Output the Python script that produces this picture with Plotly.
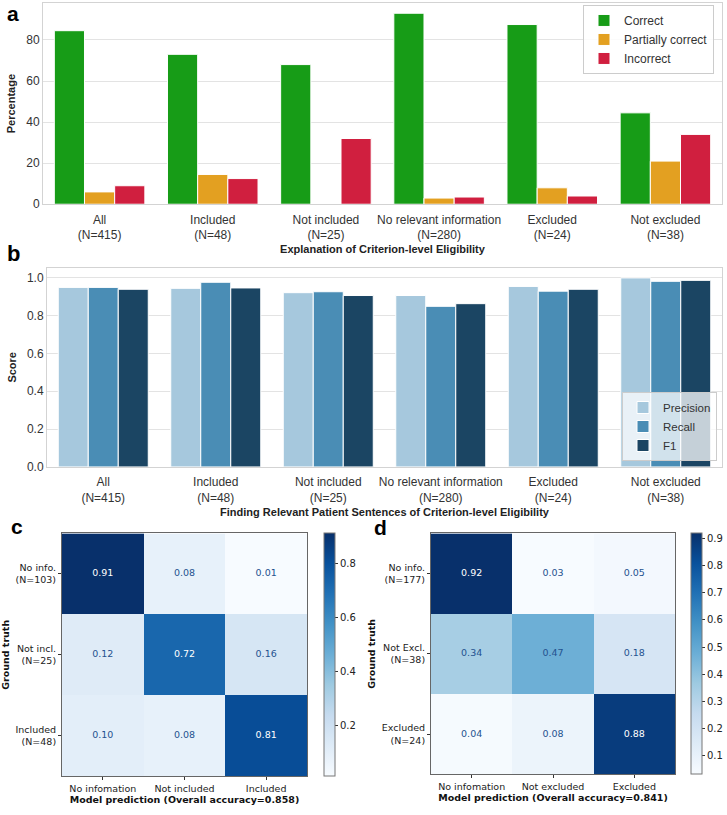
import plotly.graph_objects as go

W, H = 727, 815

# ---------------- data ----------------
cats = ["All<br>(N=415)", "Included<br>(N=48)", "Not included<br>(N=25)",
        "No relevant information<br>(N=280)", "Excluded<br>(N=24)", "Not excluded<br>(N=38)"]

correct = [84.5, 73.0, 68.0, 93.0, 87.5, 44.5]
partially = [6.0, 14.5, 0.0, 3.0, 8.0, 21.0]
incorrect = [9.0, 12.5, 32.0, 3.5, 4.0, 34.0]

precision = [0.948, 0.943, 0.920, 0.905, 0.953, 0.998]
recall = [0.948, 0.975, 0.925, 0.848, 0.928, 0.980]
f1 = [0.938, 0.945, 0.905, 0.862, 0.938, 0.985]

c_cols = ["No infomation", "Not included", "Included"]
c_rows = ["No info.<br>(N=103)", "Not incl.<br>(N=25)", "Included<br>(N=48)"]
c_vals = [[0.91, 0.08, 0.01],
          [0.12, 0.72, 0.16],
          [0.10, 0.08, 0.81]]

d_cols = ["No infomation", "Not excluded", "Excluded"]
d_rows = ["No info.<br>(N=177)", "Not Excl.<br>(N=38)", "Excluded<br>(N=24)"]
d_vals = [[0.92, 0.03, 0.05],
          [0.34, 0.47, 0.18],
          [0.04, 0.08, 0.88]]

# ---------------- helpers ----------------
def px_x(a, b):
    return [a / W, b / W]

def px_y(top, bottom):
    return [1 - bottom / H, 1 - top / H]

blues = [[0.0, "#f7fbff"], [0.125, "#deebf7"], [0.25, "#c6dbef"], [0.375, "#9ecae1"],
         [0.5, "#6baed6"], [0.625, "#4292c6"], [0.75, "#2171b5"], [0.875, "#08519c"],
         [1.0, "#08306b"]]

SANS = "Liberation Sans, Arial, sans-serif"
DJV = "DejaVu Sans, sans-serif"

fig = go.Figure()

# ---------------- panel a ----------------
for name, vals, col in [("Correct", correct, "#179c17"),
                        ("Partially correct", partially, "#e3a021"),
                        ("Incorrect", incorrect, "#d01f3f")]:
    fig.add_trace(go.Bar(x=cats, y=vals, name=name, marker=dict(color=col, line=dict(color="white", width=1)),
                         xaxis="x", yaxis="y", legend="legend", offsetgroup=name))

# ---------------- panel b ----------------
for name, vals, col in [("Precision", precision, "#a6c8dd"),
                        ("Recall", recall, "#4a8db5"),
                        ("F1", f1, "#1b4563")]:
    fig.add_trace(go.Bar(x=cats, y=vals, name=name, marker=dict(color=col, line=dict(color="white", width=1)),
                         xaxis="x2", yaxis="y2", legend="legend2", offsetgroup=name))

# ---------------- heatmaps ----------------
def add_cm(cols, rows, vals, xa, ya, cb_x, cb_y, cb_len, ticks):
    flat = [v for r in vals for v in r]
    zmin, zmax = min(flat), max(flat)
    fig.add_trace(go.Heatmap(z=vals, x=cols, y=rows, colorscale=blues, zmin=zmin, zmax=zmax,
                             xaxis=xa, yaxis=ya, showscale=True, hoverinfo="skip",
                             colorbar=dict(x=cb_x, xanchor="left", y=cb_y, yanchor="middle",
                                           len=cb_len, lenmode="fraction", thickness=11,
                                           xpad=0, ypad=0,
                                           outlinecolor="#777", outlinewidth=1,
                                           tickvals=ticks, ticks="outside", ticklen=3,
                                           tickcolor="#333",
                                           tickfont=dict(family=DJV, size=10, color="#222"))))
    thr = (zmin + zmax) / 2
    xs, ys, ts, cs = [], [], [], []
    for i, r in enumerate(rows):
        for j, c in enumerate(cols):
            xs.append(c)
            ys.append(r)
            ts.append(f"{vals[i][j]:.2f}")
            cs.append("#ffffff" if vals[i][j] > thr else "#24528f")
    fig.add_trace(go.Scatter(x=xs, y=ys, text=ts, mode="text", xaxis=xa, yaxis=ya,
                             textfont=dict(family=DJV, size=9.5, color=cs), showlegend=False,
                             hoverinfo="skip"))

add_cm(c_cols, c_rows, c_vals, "x3", "y3", 324 / W, 1 - 660.5 / H, 245 / H, [0.2, 0.4, 0.6, 0.8])
add_cm(d_cols, d_rows, d_vals, "x4", "y4", 691 / W, 1 - 659.5 / H, 243 / H,
       [0.1, 0.2, 0.3, 0.4, 0.5, 0.6, 0.7, 0.8, 0.9])

# ---------------- layout ----------------
bar_x = dict(showline=True, mirror=True, linecolor="#d3d3d3", linewidth=1, showgrid=False,
             tickfont=dict(family=SANS, size=12, color="#333"), ticks="outside", ticklen=4,
             tickcolor="rgba(0,0,0,0)",
             title=dict(font=dict(family=SANS, size=11, color="#222", weight="bold"), standoff=4))
bar_y = dict(showline=True, mirror=True, linecolor="#d3d3d3", linewidth=1, showgrid=True,
             gridcolor="#e3e3e3", gridwidth=1, zeroline=False,
             tickfont=dict(family=SANS, size=12, color="#333"), ticks="",
             title=dict(font=dict(family=SANS, size=11, color="#222", weight="bold"), standoff=8))

cm_ax = dict(showline=True, mirror=True, linecolor="#666", linewidth=1, showgrid=False,
             zeroline=False, ticks="outside", ticklen=3, tickcolor="#333",
             tickfont=dict(family=DJV, size=9.5, color="#222"))

cm_title_font = dict(family=DJV, size=9.5, color="#111", weight="bold")

fig.update_layout(
    width=W, height=H, margin=dict(l=0, r=0, t=0, b=0),
    paper_bgcolor="white", plot_bgcolor="white",
    barmode="group", bargap=0.2, bargroupgap=0,
    xaxis=dict(bar_x, domain=px_x(43, 722), anchor="y",
               title=dict(bar_x["title"], text="Explanation of Criterion-level Eligibility")),
    yaxis=dict(bar_y, domain=px_y(3, 206), anchor="x", range=[0, 98], tickvals=[0, 20, 40, 60, 80],
               title=dict(bar_y["title"], text="Percentage")),
    xaxis2=dict(bar_x, domain=px_x(47, 722), anchor="y2",
                title=dict(bar_x["title"], text="Finding Relevant Patient Sentences of Criterion-level Eligibility")),
    yaxis2=dict(bar_y, domain=px_y(270, 471), anchor="x2", range=[0, 1.052],
                tickvals=[0, 0.2, 0.4, 0.6, 0.8, 1.0], tickformat=".1f",
                title=dict(bar_y["title"], text="Score")),
    xaxis3=dict(cm_ax, domain=px_x(62, 307), anchor="y3",
                title=dict(text="Model prediction (Overall accuracy=0.858)", standoff=3,
                           font=cm_title_font)),
    yaxis3=dict(cm_ax, domain=px_y(538, 783), anchor="x3", autorange="reversed",
                title=dict(text="Ground truth", standoff=4, font=cm_title_font)),
    xaxis4=dict(cm_ax, domain=px_x(431, 675), anchor="y4",
                title=dict(text="Model prediction (Overall accuracy=0.841)", standoff=3,
                           font=cm_title_font)),
    yaxis4=dict(cm_ax, domain=px_y(538, 781), anchor="x4", autorange="reversed",
                title=dict(text="Ground truth", standoff=4, font=cm_title_font)),
    legend=dict(x=583 / W, xanchor="left", y=1 - 5 / H, yanchor="top",
                bgcolor="rgba(255,255,255,0.85)", bordercolor="#cccccc", borderwidth=1,
                font=dict(family=SANS, size=12, color="#333"), tracegroupgap=0, itemwidth=30),
    legend2=dict(x=622 / W, xanchor="left", y=1 - 465 / H, yanchor="bottom",
                 bgcolor="rgba(255,255,255,0.75)", bordercolor="#cccccc", borderwidth=1,
                 font=dict(family=SANS, size=11.5, color="#333"), tracegroupgap=0, itemwidth=30),
    showlegend=True,
)

for txt, x, y, s, anc in [("a", 5, 0, 21, "top"), ("b", 5, 256, 22, "middle"),
                          ("c", 9, 531, 21, "middle"), ("d", 372, 532, 21, "middle")]:
    fig.add_annotation(text=f"<b>{txt}</b>", x=x / W, y=1 - y / H, xref="paper", yref="paper",
                       xanchor="left", yanchor=anc, showarrow=False,
                       font=dict(family=SANS, size=s, color="#000"))

fig.write_html("out.html")
